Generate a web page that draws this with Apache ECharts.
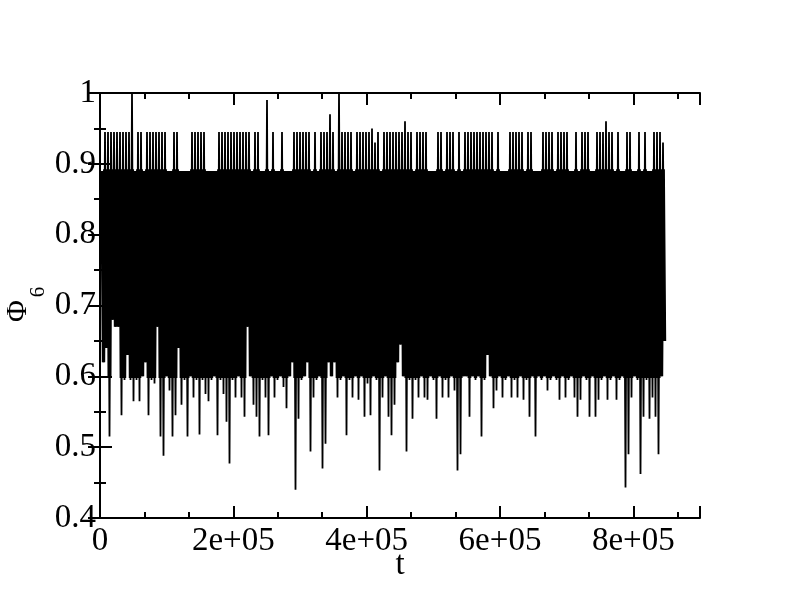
<!DOCTYPE html>
<html><head><meta charset="utf-8">
<script src="https://cdn.jsdelivr.net/npm/echarts@6/dist/echarts.min.js"></script>
<style>html,body{margin:0;padding:0;background:#fff}#c{width:792px;height:609px}</style>
</head><body><div id="c"></div>
<script>
// sampling grid of the time series (t of each recorded block)
const tStart = 3000, tStep = 4500;
// upper value reached in each block
const hiVals = [
0.89,0.945,0.945,0.945,0.945,0.945,0.945,0.945,0.945,0.945,
1.0,0.89,0.945,0.945,0.89,0.945,0.945,0.945,0.945,0.945,
0.945,0.945,0.89,0.89,0.945,0.945,0.89,0.89,0.89,0.89,
0.945,0.945,0.945,0.945,0.945,0.89,0.89,0.89,0.89,0.945,
0.945,0.945,0.945,0.945,0.945,0.945,0.945,0.945,0.945,0.945,
0.89,0.945,0.945,0.89,0.89,0.99,0.89,0.945,0.89,0.89,
0.945,0.89,0.89,0.89,0.945,0.945,0.945,0.945,0.945,0.945,
0.89,0.945,0.89,0.945,0.945,0.945,0.97,0.945,0.89,1.0,
0.945,0.945,0.945,0.945,0.89,0.945,0.945,0.945,0.945,0.945,
0.95,0.93,0.945,0.89,0.945,0.945,0.945,0.945,0.945,0.945,
0.945,0.96,0.945,0.945,0.89,0.945,0.945,0.945,0.945,0.89,
0.89,0.89,0.945,0.945,0.89,0.945,0.945,0.945,0.89,0.945,
0.89,0.945,0.945,0.945,0.945,0.945,0.945,0.945,0.945,0.945,
0.945,0.89,0.945,0.89,0.89,0.89,0.945,0.945,0.945,0.945,
0.945,0.89,0.945,0.945,0.89,0.89,0.89,0.945,0.945,0.945,
0.945,0.89,0.945,0.945,0.945,0.945,0.89,0.89,0.945,0.89,
0.945,0.945,0.945,0.89,0.89,0.945,0.945,0.945,0.96,0.945,
0.945,0.89,0.945,0.89,0.89,0.945,0.945,0.89,0.89,0.945,
0.89,0.945,0.89,0.89,0.945,0.945,0.945,0.93
];
// lower value reached in each block
const loVals = [
0.62,0.64,0.515,0.68,0.67,0.67,0.545,0.595,0.63,0.595,
0.565,0.595,0.565,0.6,0.62,0.545,0.595,0.59,0.67,0.515,
0.488,0.6,0.58,0.515,0.545,0.64,0.56,0.595,0.515,0.6,
0.57,0.595,0.518,0.595,0.575,0.565,0.595,0.6,0.517,0.595,
0.575,0.536,0.477,0.595,0.57,0.6,0.57,0.543,0.67,0.6,
0.56,0.543,0.515,0.595,0.57,0.517,0.6,0.57,0.595,0.6,
0.585,0.555,0.6,0.62,0.44,0.54,0.595,0.6,0.62,0.494,
0.57,0.595,0.6,0.47,0.505,0.62,0.6,0.62,0.57,0.595,
0.6,0.517,0.595,0.57,0.6,0.567,0.6,0.543,0.59,0.545,
0.6,0.595,0.467,0.57,0.6,0.543,0.517,0.56,0.62,0.645,
0.6,0.494,0.595,0.54,0.595,0.57,0.6,0.57,0.567,0.6,
0.595,0.54,0.6,0.57,0.595,0.57,0.6,0.58,0.467,0.49,
0.6,0.6,0.543,0.6,0.595,0.6,0.515,0.595,0.63,0.6,
0.555,0.58,0.6,0.57,0.595,0.6,0.57,0.595,0.57,0.6,
0.567,0.595,0.543,0.6,0.515,0.6,0.595,0.6,0.58,0.595,
0.6,0.595,0.567,0.6,0.57,0.595,0.6,0.57,0.543,0.567,
0.6,0.595,0.543,0.6,0.543,0.567,0.595,0.6,0.567,0.595,
0.6,0.567,0.595,0.6,0.443,0.49,0.57,0.6,0.595,0.462,
0.543,0.595,0.54,0.57,0.543,0.49,0.6,0.65
];
// value range in which the record is dense enough to paint solid black
const denseBand = [0.6, 0.89];
const xTickValues = [0, 200000, 400000, 600000, 800000];
const xTickLabels = ['0', '2e+05', '4e+05', '6e+05', '8e+05'];
const yTickValues = [0.4, 0.5, 0.6, 0.7, 0.8, 0.9, 1.0];
const yTickLabels = ['0.4', '0.5', '0.6', '0.7', '0.8', '0.9', '1'];

const seriesData = [];
hiVals.forEach((h, i) => {
  const t = tStart + tStep * i;
  seriesData.push([t, h]);
  seriesData.push([t + tStep / 2, loVals[i]]);
});

const FONT = 'Liberation Serif';
const black = '#000';
function xLabel(v) {
  const k = xTickValues.findIndex(a => Math.abs(a - v) < 1);
  return k >= 0 ? xTickLabels[k] : '';
}
function yLabel(v) {
  const k = yTickValues.findIndex(a => Math.abs(a - v) < 1e-6);
  return k >= 0 ? yTickLabels[k] : '';
}
const plotTop = 93, plotBottom = 518, H = 609;
const yMin = 0.4, yMax = 1.0;
const yPix = v => plotTop + (yMax - v) / (yMax - yMin) * (plotBottom - plotTop);
const gridBox = {left: 100, right: 92, top: plotTop, bottom: H - plotBottom, containLabel: false};
const bandGrid = {left: 100, right: 92, top: yPix(denseBand[1]), bottom: H - yPix(denseBand[0]), containLabel: false};
const lineStyle = {color: black, width: 2};

const chart = echarts.init(document.getElementById('c'), null, {renderer: 'canvas'});
chart.setOption({
  animation: false,
  backgroundColor: '#fff',
  grid: [Object.assign({}, gridBox), Object.assign({}, gridBox), bandGrid],
  xAxis: [
    {gridIndex: 0, type: 'value', position: 'bottom', min: 0, max: 900000, interval: 200000,
     axisLine: {show: true, lineStyle}, splitLine: {show: false},
     axisTick: {show: true, inside: true, length: 12, lineStyle: {color: black, width: 2}},
     axisLabel: {show: true, formatter: xLabel, color: black, fontFamily: FONT, fontSize: 33, margin: 7},
     name: 't', nameLocation: 'middle', nameGap: 31, nameMoveOverlap: false,
     nameTextStyle: {color: black, fontFamily: FONT, fontSize: 33}},
    {gridIndex: 0, type: 'value', position: 'top', min: 0, max: 900000, interval: 200000,
     axisLine: {show: true, lineStyle}, splitLine: {show: false},
     axisTick: {show: true, inside: true, length: 12, lineStyle: {color: black, width: 2}},
     axisLabel: {show: false}},
    {gridIndex: 1, type: 'value', position: 'bottom', min: 0, max: 900000, interval: 200000 / 3,
     axisLine: {show: false}, splitLine: {show: false},
     axisTick: {show: true, inside: true, length: 6, lineStyle: {color: black, width: 2}},
     axisLabel: {show: false}},
    {gridIndex: 1, type: 'value', position: 'top', min: 0, max: 900000, interval: 200000 / 3,
     axisLine: {show: false}, splitLine: {show: false},
     axisTick: {show: true, inside: true, length: 6, lineStyle: {color: black, width: 2}},
     axisLabel: {show: false}},
    {gridIndex: 2, type: 'value', show: false, min: 0, max: 900000}
  ],
  yAxis: [
    {gridIndex: 0, type: 'value', position: 'left', min: yMin, max: yMax, interval: 0.1,
     axisLine: {show: true, lineStyle}, splitLine: {show: false},
     axisTick: {show: true, inside: true, length: 12, lineStyle: {color: black, width: 2}},
     minorTick: {show: true, splitNumber: 2, length: 6, lineStyle: {color: black, width: 2}},
     minorSplitLine: {show: false},
     axisLabel: {show: true, formatter: yLabel, color: black, fontFamily: FONT, fontSize: 33, margin: 4}},
    {gridIndex: 0, type: 'value', position: 'right', min: yMin, max: yMax, interval: 0.1,
     axisLine: {show: true, lineStyle}, splitLine: {show: false},
     axisTick: {show: true, inside: true, length: 12, lineStyle: {color: black, width: 2}},
     minorTick: {show: true, splitNumber: 2, length: 6, lineStyle: {color: black, width: 2}},
     minorSplitLine: {show: false},
     axisLabel: {show: false}},
    {gridIndex: 1, type: 'value', show: false, min: yMin, max: yMax},
    {gridIndex: 2, type: 'value', show: false, min: denseBand[0], max: denseBand[1]}
  ],
  graphic: [
    {type: 'text', x: 18, y: 311, rotation: Math.PI / 2,
     style: {text: 'Φ', font: '30px "Liberation Serif"', fill: black, textAlign: 'center', textVerticalAlign: 'middle'}},
    {type: 'text', x: 38, y: 292, rotation: Math.PI / 2,
     style: {text: '6', font: '21px "Liberation Serif"', fill: black, textAlign: 'center', textVerticalAlign: 'middle'}}
  ],
  series: [
    {type: 'line', xAxisIndex: 0, yAxisIndex: 0, data: seriesData,
     showSymbol: false, symbol: 'none', sampling: null, smooth: false,
     lineStyle: {color: black, width: 1.8, join: 'bevel'}, silent: true, z: 2},
    // same record, inside the densely sampled band (clipped by its own grid)
    {type: 'line', xAxisIndex: 4, yAxisIndex: 3, data: seriesData, clip: true,
     showSymbol: false, symbol: 'none', sampling: null, smooth: false,
     lineStyle: {color: black, width: 3.4, join: 'bevel'}, silent: true, z: 2}
  ]
});
</script></body></html>
